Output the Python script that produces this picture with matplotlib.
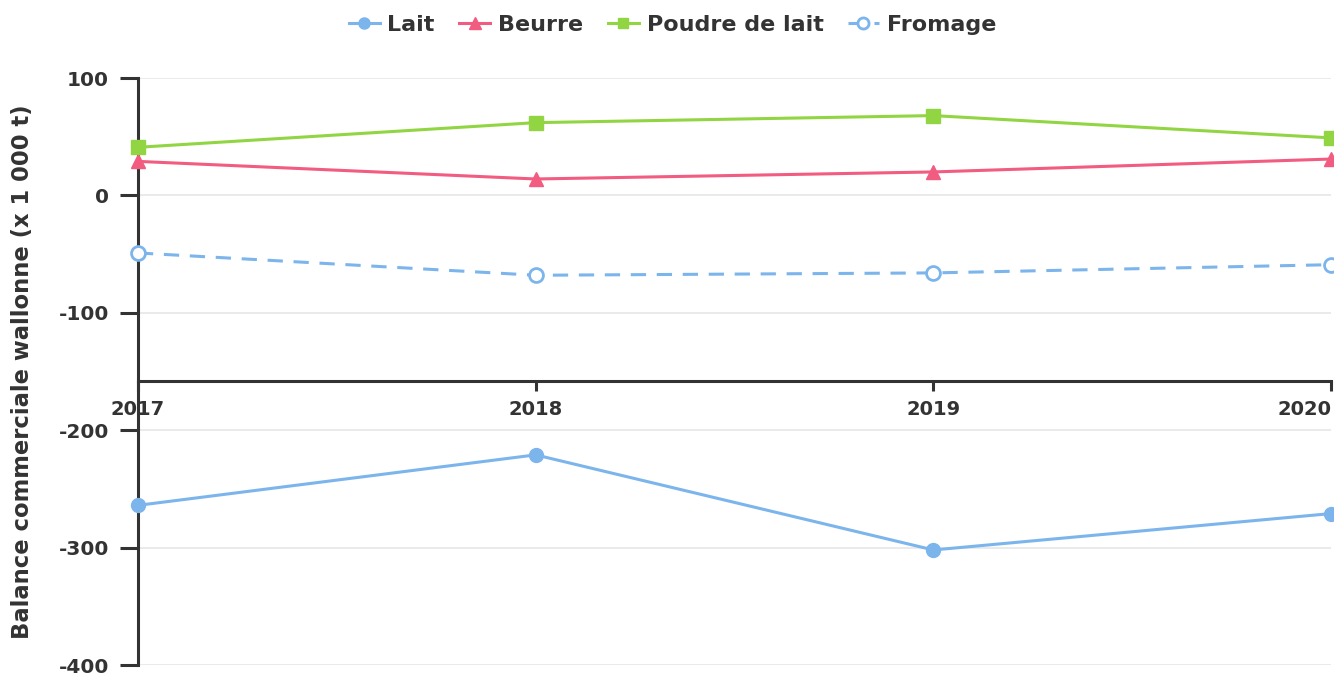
import numpy as np
import matplotlib
matplotlib.use("Agg")
import matplotlib.pyplot as plt

years = [2017, 2018, 2019, 2020]
lait = [-264, -221, -302, -271]
beurre = [29, 14, 20, 31]
poudre = [41, 62, 68, 49]
fromage = [-49, -68, -66, -59]

blue = '#7cb5ec'
pink = '#f15c80'
green = '#91d543'
dark = '#333333'

plt.rcParams['font.family'] = 'DejaVu Sans'
plt.rcParams['font.weight'] = 'bold'
plt.rcParams['axes.unicode_minus'] = False

fig = plt.figure(figsize=(13.34, 6.75), dpi=100)
ax = fig.add_axes([0.1034, 0.0148, 0.8944, 0.8696])

ax.plot(years, lait, color=blue, lw=2.2, marker='o', ms=10, clip_on=False, label='Lait', zorder=3)
ax.plot(years, beurre, color=pink, lw=2.2, marker='^', ms=10, clip_on=False, label='Beurre', zorder=3)
ax.plot(years, poudre, color=green, lw=2.2, marker='s', ms=9.5, clip_on=False, label='Poudre de lait', zorder=3)
ax.plot(years, fromage, color=blue, lw=2.2, ls=(0, (5, 3.5)), marker='o', ms=10,
        mfc='white', mec=blue, mew=2, clip_on=False, label='Fromage', zorder=3)

ax.set_xlim(2017, 2020)
ax.set_ylim(-400, 100)
ax.set_yticks([100, 0, -100, -200, -300, -400])
ax.set_xticks(years)
ax.grid(axis='y', color='#e6e6e6', lw=1.2)
ax.set_axisbelow(True)

for s in ['top', 'right']:
    ax.spines[s].set_visible(False)
ax.spines['left'].set_color(dark)
ax.spines['left'].set_linewidth(2.2)
ax.spines['bottom'].set_color(dark)
ax.spines['bottom'].set_linewidth(2.2)
ax.spines['bottom'].set_position(('data', -158))

ax.tick_params(axis='y', length=13, width=2.2, color=dark, labelsize=14.5, labelcolor=dark, pad=8)
ax.tick_params(axis='x', length=7, width=2.2, color=dark, labelsize=14, labelcolor=dark, pad=6.5)
for lab in ax.get_yticklabels() + ax.get_xticklabels():
    lab.set_fontweight('bold')
xl = ax.get_xticklabels()
xl[-1].set_horizontalalignment('right')

ax.set_ylabel('Balance commerciale wallonne (x 1 000 t)', fontsize=16.3, fontweight='bold',
              color=dark)
ax.yaxis.set_label_coords(-0.087, 0.50)

leg = fig.legend(loc='center', bbox_to_anchor=(0.504, 0.963), ncol=4, frameon=False,
                 prop={'size': 16, 'weight': 'bold'}, handlelength=1.4, handletextpad=0.35,
                 columnspacing=1.1, markerscale=0.8)
for t in leg.get_texts():
    t.set_color(dark)

fig.savefig('out.png', dpi=100)
